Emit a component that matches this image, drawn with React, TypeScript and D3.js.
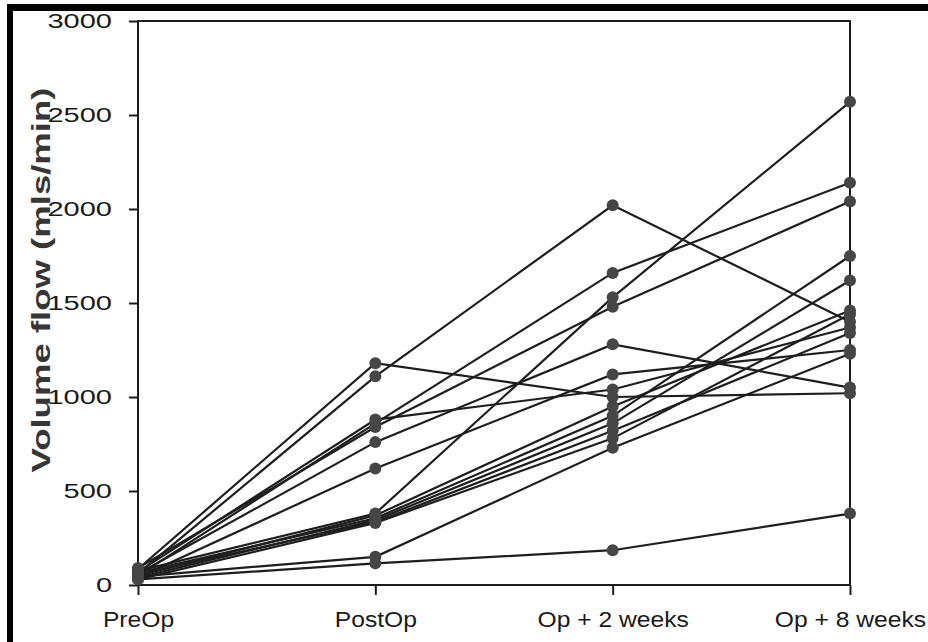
import { useEffect, useRef } from 'react';
import * as d3 from 'd3';

// Momentos de medición (eje X)
const categorias = ['PreOp', 'PostOp', 'Op + 2 weeks', 'Op + 8 weeks'];

// Un valor por paciente en cada momento (mls/min), mismo índice = mismo paciente
const preOp = [60, 85, 70, 50, 90, 60, 40, 75, 50, 65, 40, 55, 30, 45, 30];
const postOp = [1110, 1180, 880, 860, 840, 760, 620, 380, 370, 355, 345, 335, 330, 150, 115];
const op2Semanas = [2020, 1000, 1040, 1660, 1480, 1280, 1120, 1530, 950, 900, 860, 820, 780, 730, 185];
const op8Semanas = [1400, 1020, 1370, 2140, 2040, 1050, 1250, 2570, 1460, 1750, 1620, 1340, 1440, 1230, 380];

const yTicks = [0, 500, 1000, 1500, 2000, 2500, 3000];
const tituloY = 'Volume flow (mls/min)';

const fuente = "'Liberation Sans', Arial, Helvetica, sans-serif";

export default function App() {
  const ref = useRef<SVGSVGElement>(null);

  useEffect(() => {
    const width = 928;
    const height = 642;
    const svg = d3.select(ref.current);
    svg.selectAll('*').remove();
    svg.attr('width', width).attr('height', height);

    svg.append('rect').attr('width', width).attr('height', height).attr('fill', '#fff');

    const x = d3.scalePoint<string>().domain(categorias).range([138, 850]);
    const y = d3.scaleLinear().domain([0, 3000]).range([585, 21]);

    const columnas = [preOp, postOp, op2Semanas, op8Semanas];
    const pacientes = preOp.map((_, i) => categorias.map((c, j) => ({ c, v: columnas[j][i] })));

    // Caja del gráfico
    svg.append('rect')
      .attr('x', x(categorias[0]))
      .attr('y', y(3000))
      .attr('width', (x(categorias[3]) as number) - (x(categorias[0]) as number))
      .attr('height', y(0) - y(3000))
      .attr('fill', 'none')
      .attr('stroke', '#1c1c1c')
      .attr('stroke-width', 2);

    // Eje Y
    const ejeY = svg.append('g')
      .attr('transform', `translate(${x(categorias[0])},0)`)
      .call(d3.axisLeft(y).tickValues(yTicks).tickSize(9).tickPadding(17).tickFormat(d3.format('d')))
      .call(g => g.select('.domain').remove());
    ejeY.selectAll('.tick line').attr('stroke', '#1c1c1c').attr('stroke-width', 2);
    ejeY.selectAll<SVGTextElement, number>('.tick text')
      .attr('font-family', fuente)
      .attr('font-size', 20)
      .attr('fill', '#1a1a1a')
      .each(function () {
        const w = this.getComputedTextLength();
        d3.select(this).attr('textLength', w * 1.45).attr('lengthAdjust', 'spacingAndGlyphs');
      });

    // Eje X
    const ejeX = svg.append('g')
      .attr('transform', `translate(0,${y(0)})`)
      .call(d3.axisBottom(x).tickSize(10).tickPadding(16))
      .call(g => g.select('.domain').remove());
    ejeX.selectAll('.tick line').attr('stroke', '#1c1c1c').attr('stroke-width', 2);
    ejeX.selectAll<SVGTextElement, string>('.tick text')
      .attr('font-family', fuente)
      .attr('font-size', 22)
      .attr('fill', '#1a1a1a')
      .each(function () {
        const w = this.getComputedTextLength();
        d3.select(this).attr('textLength', w * 1.12).attr('lengthAdjust', 'spacingAndGlyphs');
      });

    // Título eje Y
    svg.append('text')
      .attr('transform', 'translate(50,280) rotate(-90)')
      .attr('text-anchor', 'middle')
      .attr('font-family', fuente)
      .attr('font-weight', 700)
      .attr('font-size', 26)
      .attr('fill', '#363636')
      .attr('textLength', 385)
      .attr('lengthAdjust', 'spacingAndGlyphs')
      .text(tituloY);

    // Líneas por paciente
    const linea = d3.line<{ c: string; v: number }>()
      .x(d => x(d.c) as number)
      .y(d => y(d.v));
    svg.append('g')
      .selectAll('path')
      .data(pacientes)
      .join('path')
      .attr('d', linea)
      .attr('fill', 'none')
      .attr('stroke', '#1e1e1e')
      .attr('stroke-width', 2.2);

    // Puntos
    svg.append('g')
      .selectAll('circle')
      .data(pacientes.flat())
      .join('circle')
      .attr('cx', d => x(d.c) as number)
      .attr('cy', d => y(d.v))
      .attr('r', 6)
      .attr('fill', '#464646');

    // Marco negro del recorte (arriba e izquierda)
    const marco = svg.append('g').attr('fill', '#000');
    marco.append('rect').attr('x', 7).attr('y', 4).attr('width', 921).attr('height', 7);
    marco.append('rect').attr('x', 7).attr('y', 4).attr('width', 6).attr('height', 638);
  }, []);

  return <svg ref={ref} style={{ position: 'absolute', left: 0, top: 0 }} />;
}
